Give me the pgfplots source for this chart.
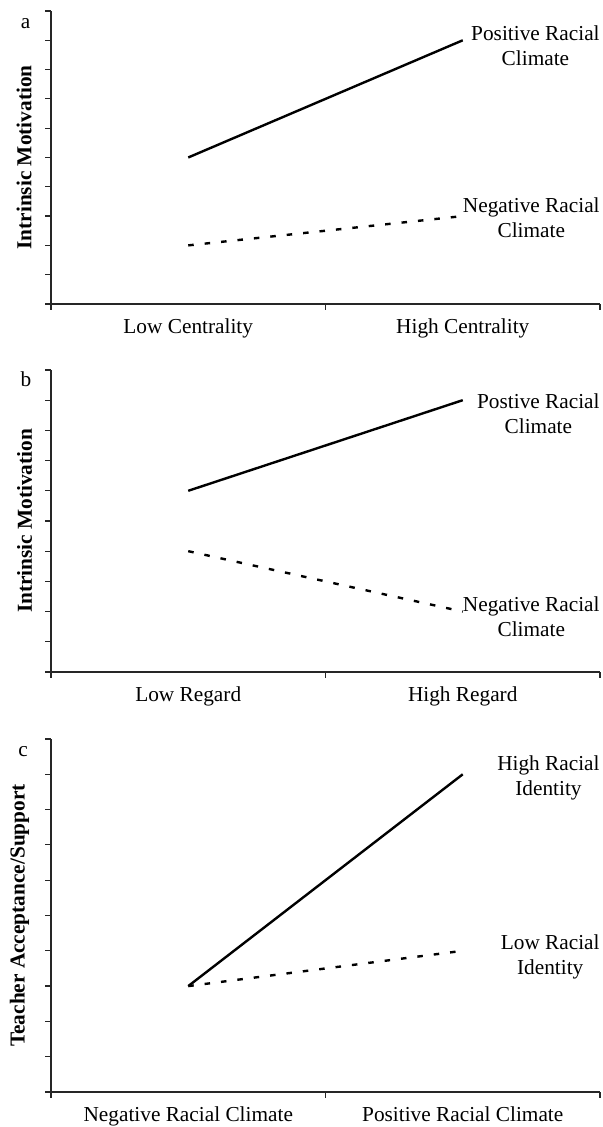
\documentclass[border=0pt]{standalone}
\usepackage{fontspec}
\setmainfont{Liberation Serif}
\usepackage{pgfplots}
\pgfplotsset{compat=1.18}
\begin{document}
\fontsize{10.65}{12.5}\selectfont
\begin{tikzpicture}[font=\fontsize{10.65}{12.5}\selectfont]
\pgfplotsset{
  panel/.style={
    scale only axis, width=274.5pt,
    xmin=0, xmax=2, ymin=0, ymax=10,
    axis lines=left, axis line style={-, black!85, line width=0.6pt},
    xtick={0,1,2}, ytick={0,...,10},
    xticklabels={}, yticklabels={},
    tick align=outside, major tick length=3pt,
    tick style={black!85, line width=0.6pt},
    clip=false, anchor=south west,
  },
}
\tikzset{
  solidser/.style={black, line width=1.2pt},
  dashser/.style={black, line width=1.2pt, dash pattern=on 2.75pt off 5.5pt},
  rlab/.style={align=center, anchor=north east, inner sep=0pt},
  catlab/.style={anchor=base, yshift=-15pt, inner sep=0pt},
}
% Panel a
\begin{axis}[panel, at={(25.5pt,411.5pt)}, height=146.5pt]
\addplot[solidser, no markers] coordinates {(0.5,5) (1.5,9)};
\addplot[dashser, no markers] coordinates {(0.5,2) (1.5,3)};
\node[rlab] at (axis cs:2,9.52) {Positive Racial\\Climate};
\node[rlab] at (axis cs:2,3.65) {Negative Racial\\Climate};
\node[catlab] at (axis cs:0.5,0) {Low Centrality};
\node[catlab] at (axis cs:1.5,0) {High Centrality};
\node[rotate=90, font=\bfseries, inner sep=0pt] at (axis description cs:-0.0492,0.5) {Intrinsic Motivation};
\node[anchor=base, inner sep=0pt] at (axis description cs:-0.0464,0.9386) {a};
\end{axis}
% Panel b
\begin{axis}[panel, at={(25.5pt,227.5pt)}, height=151pt]
\addplot[solidser, no markers] coordinates {(0.5,6) (1.5,9)};
\addplot[dashser, no markers] coordinates {(0.5,4) (1.5,2)};
\node[rlab] at (axis cs:2,9.24) {Postive Racial\\Climate};
\node[rlab] at (axis cs:2,2.52) {Negative Racial\\Climate};
\node[catlab] at (axis cs:0.5,0) {Low Regard};
\node[catlab] at (axis cs:1.5,0) {High Regard};
\node[rotate=90, font=\bfseries, inner sep=0pt] at (axis description cs:-0.0483,0.5) {Intrinsic Motivation};
\node[anchor=base, inner sep=0pt] at (axis description cs:-0.0455,0.9437) {b};
\end{axis}
% Panel c
\begin{axis}[panel, at={(25.5pt,17.5pt)}, height=176.5pt]
\addplot[solidser, no markers] coordinates {(0.5,3) (1.5,9)};
\addplot[dashser, no markers] coordinates {(0.5,3) (1.5,4)};
\node[rlab] at (axis cs:2,9.55) {High Racial\\Identity};
\node[rlab] at (axis cs:2,4.48) {Low Racial\\Identity};
\node[catlab] at (axis cs:0.5,0) {Negative Racial Climate};
\node[catlab] at (axis cs:1.5,0) {Positive Racial Climate};
\node[rotate=90, font=\bfseries, inner sep=0pt] at (axis description cs:-0.0574,0.5) {Teacher Acceptance/Support};
\node[anchor=base, inner sep=0pt] at (axis description cs:-0.051,0.949) {c};
\end{axis}
\pgfresetboundingbox
\path (0,0) rectangle (301.5pt,563.5pt);
\end{tikzpicture}
\end{document}
